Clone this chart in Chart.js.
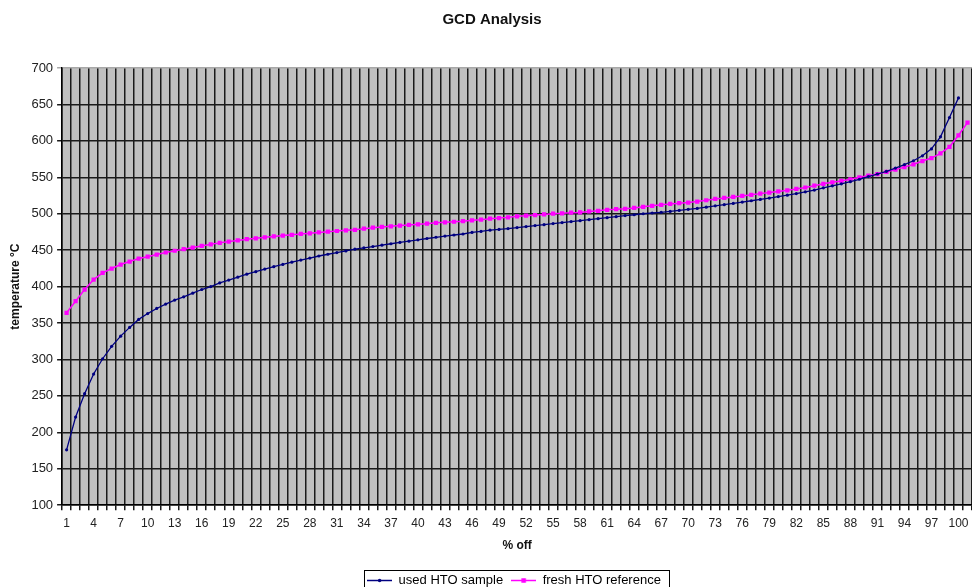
<!DOCTYPE html>
<html>
<head>
<meta charset="utf-8">
<title>GCD Analysis</title>
<script src="https://cdn.jsdelivr.net/npm/chart.js@4.4.1/dist/chart.umd.min.js"></script>
<style>
  html, body { margin: 0; padding: 0; background: #fff; overflow: hidden; }
  #wrap { width: 972px; height: 587px; overflow: hidden; }
</style>
</head>
<body>
<div id="wrap"><canvas id="chart" width="976" height="597"></canvas></div>
<script>
// % off categories 1..101 (labels shown every 3rd)
const percentOff = [];
for (let p = 1; p <= 101; p++) percentOff.push(String(p));

const usedSample = [
    176, 221, 253, 280, 301, 318, 332, 344, 355, 363,
    370, 376, 381.5, 386, 391, 396, 400, 405, 409, 413,
    417, 420.5, 424, 427.3, 430.4, 433.5, 436.4, 439.2, 442, 444.4,
    446.7, 449, 451.3, 453.2, 455, 456.9, 458.8, 460.6, 462.4, 464.2,
    466, 467.7, 469.3, 470.8, 472.2, 474.3, 475.7, 477.5, 478.4, 479.7,
    481, 482.4, 483.8, 485, 486.5, 487.8, 489.2, 490.5, 491.9, 493.2,
    494.6, 496, 497.5, 498.6, 500, 501, 502, 503.2, 504.5, 506,
    507.3, 509, 510.8, 512.5, 514.2, 516, 517.8, 519.6, 521.5, 523.5,
    525.5, 527.7, 530, 532.5, 535.5, 538.3, 541, 544, 547.3, 551,
    554.5, 558.2, 562.7, 567.3, 572.7, 579.5, 589, 605.5, 632, 659,
    null
];

const freshReference = [
    364, 380, 396, 409.6, 418.8, 424.8, 430.3, 434.4, 438.5, 441,
    444, 446.8, 449.2, 451.4, 453.6, 455.8, 458, 460, 461.8, 463.4,
    465, 466.2, 467.6, 468.8, 470, 471.1, 472.2, 473.2, 474.3, 475.3,
    476.3, 477.2, 478, 479.5, 480.8, 481.8, 482.8, 483.7, 484.6, 485.5,
    486.4, 487.5, 488.3, 489, 489.7, 491, 491.9, 493.2, 494.1, 495,
    496.4, 497.3, 498.2, 499.1, 500, 500.5, 501.4, 501.8, 503.2, 504,
    505.4, 506.3, 506.8, 508, 509.5, 510.8, 512.2, 513.5, 514.4, 515.3,
    516.7, 518.5, 520.3, 521.6, 523, 524.5, 526, 527.6, 529, 530.6,
    532.2, 534, 536, 538.5, 541, 543.2, 545, 547.3, 550, 552.3,
    554.5, 557.3, 560.5, 564, 567.7, 572.3, 576.4, 582.7, 591.8, 607.7,
    625
];

const yMin = 100;
const yMax = 700;
const yStep = 50;

const NAVY = '#000080';
const MAGENTA = '#ff00ff';

Chart.defaults.font.family = '"Liberation Sans", Arial, sans-serif';
Chart.defaults.color = '#222';

// little line+marker icons for the legend
function legendIcon(color, marker, size) {
    const c = document.createElement('canvas');
    c.width = 25;
    c.height = 9;
    const ctx = c.getContext('2d');
    ctx.strokeStyle = color;
    ctx.lineWidth = 1.5;
    ctx.beginPath();
    ctx.moveTo(0, 4.5);
    ctx.lineTo(25, 4.5);
    ctx.stroke();
    ctx.fillStyle = color;
    if (marker === 'rect') {
        ctx.fillRect(12.5 - size / 2, 4.5 - size / 2, size, size);
    } else {
        ctx.beginPath();
        ctx.arc(12.5, 4.5, size / 2, 0, Math.PI * 2);
        ctx.fill();
    }
    return c;
}
const icons = [legendIcon(NAVY, 'circle', 3.5), legendIcon(MAGENTA, 'rect', 4.5)];

const plotBackground = {
    id: 'plotBackground',
    beforeDraw(chart) {
        const {ctx, chartArea: a} = chart;
        ctx.save();
        ctx.fillStyle = '#c0c0c0';
        ctx.fillRect(a.left, a.top, a.right - a.left, a.bottom - a.top);
        ctx.restore();
    }
};

// legend is centred under the plot area, with a thin box round it
const legendBox = {
    id: 'legendBox',
    afterUpdate(chart) {
        const lg = chart.legend;
        const dx = 22;
        lg.left += dx;
        lg.right += dx;
        lg.legendHitBoxes.forEach(h => { h.left += dx; });
    },
    afterDraw(chart) {
        const boxes = chart.legend.legendHitBoxes;
        if (!boxes.length) return;
        const l = Math.min(...boxes.map(b => b.left)) - 3;
        const r = Math.max(...boxes.map(b => b.left + b.width)) + 8;
        const t = boxes[0].top - 4;
        const h = boxes[0].height + 8;
        const ctx = chart.ctx;
        ctx.save();
        ctx.strokeStyle = '#000';
        ctx.lineWidth = 1;
        ctx.strokeRect(Math.round(l) + 0.5, Math.round(t) + 0.5, Math.round(r - l), Math.round(h));
        ctx.restore();
    }
};

new Chart(document.getElementById('chart'), {
    type: 'line',
    data: {
        labels: percentOff,
        datasets: [{
            label: 'used HTO sample',
            data: usedSample,
            borderColor: NAVY,
            backgroundColor: NAVY,
            borderWidth: 1.3,
            pointStyle: 'circle',
            pointRadius: 1.6,
            pointBorderWidth: 0,
            tension: 0
        }, {
            label: 'fresh HTO reference',
            data: freshReference,
            borderColor: MAGENTA,
            backgroundColor: MAGENTA,
            borderWidth: 1.5,
            pointStyle: 'rect',
            pointRadius: 3,
            pointBorderWidth: 0,
            tension: 0
        }]
    },
    options: {
        responsive: false,
        animation: false,
        layout: { padding: { left: 8, right: 0, top: 0, bottom: 0 } },
        plugins: {
            title: {
                display: true,
                text: 'GCD Analysis',
                color: '#111',
                font: { size: 15, weight: 'bold' },
                padding: { top: 11, bottom: 39 }
            },
            legend: {
                position: 'bottom',
                labels: {
                    usePointStyle: true,
                    pointStyleWidth: 25,
                    color: '#000',
                    font: { size: 13 },
                    padding: 8,
                    generateLabels(chart) {
                        const items = Chart.defaults.plugins.legend.labels.generateLabels(chart);
                        items.forEach((it, i) => { it.pointStyle = icons[i]; });
                        return items;
                    }
                }
            },
            tooltip: { enabled: false }
        },
        scales: {
            x: {
                offset: true,
                grid: {
                    offset: true,
                    color: '#1a1a1a',
                    lineWidth: 1.5,
                    tickLength: 5
                },
                border: { color: '#000', width: 1.5 },
                ticks: {
                    autoSkip: false,
                    maxRotation: 0,
                    padding: 6,
                    font: { size: 12 },
                    callback(value, index) {
                        return index % 3 === 0 ? percentOff[index] : '';
                    }
                },
                title: {
                    display: true,
                    text: '% off',
                    color: '#111',
                    font: { size: 12, weight: 'bold' },
                    padding: { top: 2, bottom: 13 }
                }
            },
            y: {
                min: yMin,
                max: yMax,
                grid: {
                    color: ctx => ctx.tick && ctx.tick.value === yMax ? '#a8a8a8' : '#1a1a1a',
                    lineWidth: 1.5,
                    tickLength: 5
                },
                border: { color: '#000', width: 1.5 },
                ticks: {
                    stepSize: yStep,
                    padding: 4,
                    font: { size: 13 }
                },
                title: {
                    display: true,
                    text: 'temperature °C',
                    color: '#111',
                    font: { size: 12, weight: 'bold' },
                    padding: { top: 0, bottom: 5 }
                }
            }
        }
    },
    plugins: [plotBackground, legendBox]
});
</script>
</body>
</html>
